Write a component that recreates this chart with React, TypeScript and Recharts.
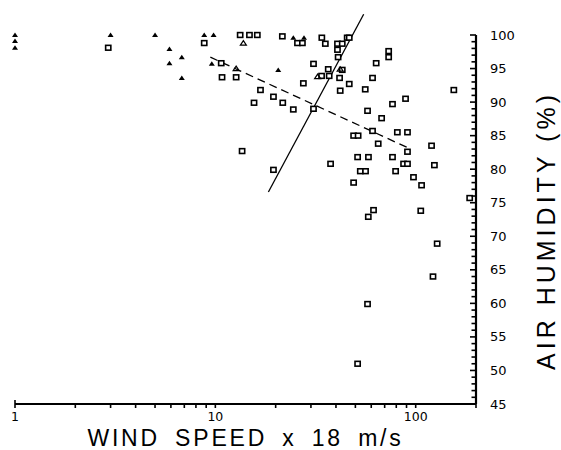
import { ScatterChart, Scatter, XAxis, YAxis, ReferenceLine } from 'recharts';

// wind speed (x 18 m/s), air humidity (%)
const squarePoints: [number, number][] = [
  [2.92, 98.1], [8.8, 98.8], [10.7, 95.8], [10.8, 93.7], [12.7, 93.7],
  [13.3, 100], [14.8, 100], [16.2, 100], [16.8, 91.8], [15.6, 89.9],
  [19.5, 90.8], [21.7, 89.9], [24.5, 88.9], [13.6, 82.7], [19.5, 79.9],
  [21.6, 99.8], [25.7, 98.8], [27.2, 98.8], [34, 99.6], [35.4, 98.7],
  [40.7, 98.7], [43, 98.7], [45.5, 99.6], [46.6, 99.6], [40.7, 97.8],
  [41, 96.7], [30.9, 95.7], [36.6, 94.9], [43, 94.8], [33.9, 93.9],
  [37, 93.9], [41.7, 93.6], [27.5, 92.8], [46.6, 92.7], [42, 91.7],
  [56, 91.9], [60.9, 93.6], [63.5, 95.8], [73.3, 97.6], [73.3, 96.7],
  [30.9, 89], [57.5, 88.7], [60.9, 85.7], [49, 85], [51.6, 85],
  [65, 83.8], [51.3, 81.8], [58.1, 81.8], [37.6, 80.8], [52.9, 79.7],
  [56.2, 79.7], [49, 78], [76.6, 89.7], [89, 90.5], [67.6, 87.6],
  [81, 85.5], [91, 85.5], [120, 83.5], [91, 82.6], [76.6, 81.8],
  [79.4, 79.7], [87, 80.8], [91, 80.8], [124, 80.6], [97.5, 78.8],
  [107, 77.6], [186, 75.7], [61.6, 73.9], [58, 72.9], [106, 73.8],
  [128, 68.9], [122, 64], [57.5, 59.9], [51.3, 51], [155, 91.8],
];

const filledTrianglePoints: [number, number][] = [
  [1, 100], [1, 99.1], [1, 98.1], [3, 100], [5, 100],
  [5.9, 97.9], [6.8, 96.7], [5.9, 95.8], [6.8, 93.6], [8.8, 100],
  [9.8, 100], [9.6, 95.7], [20.6, 94.8], [24.5, 99.6], [27.7, 99.6],
];

const openTrianglePoints: [number, number][] = [
  [13.8, 98.8], [12.7, 95], [32.4, 93.8], [42, 94.9],
];

// fitted lines (end points)
const solidFitX = [18.4, 55];
const solidFitY = [76.6, 103.1];
const dashedFitX = [9.44, 94.4];
const dashedFitY = [96.7, 83.0];

const xTicks = [1, 2, 3, 4, 5, 6, 7, 8, 9, 10, 20, 30, 40, 50, 60, 70, 80, 90, 100, 200];
const xLabels = [1, 10, 100];
const yTicks = [
  45, 46, 47, 48, 49, 50, 51, 52, 53, 54, 55, 56, 57, 58, 59, 60, 61, 62, 63, 64,
  65, 66, 67, 68, 69, 70, 71, 72, 73, 74, 75, 76, 77, 78, 79, 80, 81, 82, 83, 84,
  85, 86, 87, 88, 89, 90, 91, 92, 93, 94, 95, 96, 97, 98, 99, 100,
];
const yLabels = [45, 50, 55, 60, 65, 70, 75, 80, 85, 90, 95, 100];

const toData = (pts: [number, number][]) => pts.map(([x, y]) => ({ x, y }));

const font = '"DejaVu Sans", sans-serif';
const ink = '#000';

const XTick = (props: any) => {
  const { x, y, payload } = props;
  const v = payload.value;
  return (
    <g>
      <line x1={x} y1={y} x2={x} y2={y + 4} stroke={ink} strokeWidth={1.6} />
      {v === 1 && <line x1={x} y1={y} x2={x} y2={y - 4} stroke={ink} strokeWidth={1.6} />}
      {xLabels.includes(v) && (
        <text x={x} y={y + 17} textAnchor="middle" fontSize={12.5} fontFamily={font} fill="#000">
          {v}
        </text>
      )}
    </g>
  );
};

const YTick = (props: any) => {
  const { x, y, payload } = props;
  const v = payload.value;
  const major = yLabels.includes(v);
  return (
    <g>
      <line x1={x - (major ? 6 : 4.5)} y1={y} x2={x} y2={y} stroke={ink} strokeWidth={1.6} />
      {major && (
        <text x={x + 14} y={y + 4.5} textAnchor="start" fontSize={13} fontFamily={font} fill="#000">
          {v}
        </text>
      )}
    </g>
  );
};

const Square = (props: any) => {
  const { cx, cy } = props;
  return (
    <rect x={cx - 2.6} y={cy - 2.4} width={5.2} height={4.8} fill="#fff" stroke="#000" strokeWidth={1.6} />
  );
};

const FilledTriangle = (props: any) => {
  const { cx, cy } = props;
  return <path d={`M${cx - 3},${cy + 2} L${cx + 3},${cy + 2} L${cx},${cy - 2.5} Z`} fill="#000" />;
};

const OpenTriangle = (props: any) => {
  const { cx, cy } = props;
  return (
    <path d={`M${cx - 3},${cy + 2} L${cx + 3},${cy + 2} L${cx},${cy - 2.5} Z`} fill="none" stroke="#000" strokeWidth={1.2} />
  );
};

export default function App() {
  return (
    <div style={{ position: 'absolute', left: 0, top: 0, width: 561, height: 450, background: '#fff' }}>
      <ScatterChart width={561} height={450} margin={{ top: 35, left: 15, right: 0, bottom: 0 }}>
        <XAxis
          dataKey="x"
          type="number"
          scale="log"
          domain={[1, 200]}
          ticks={xTicks}
          interval={0}
          tickSize={0}
          tickMargin={0}
          tick={<XTick />}
          tickLine={false}
          axisLine={{ stroke: ink, strokeWidth: 2.2 }}
          height={46}
          label={{
            value: 'WIND SPEED x 18 m/s',
            position: 'insideBottom',
            offset: 4,
            fontSize: 23,
            fontFamily: '"Liberation Sans", sans-serif',
            letterSpacing: 2.8,
            wordSpacing: 6,
            fill: '#000',
          }}
        />
        <YAxis
          dataKey="y"
          type="number"
          orientation="right"
          domain={[45, 100]}
          ticks={yTicks}
          interval={0}
          tickSize={0}
          tickMargin={0}
          tick={<YTick />}
          tickLine={false}
          axisLine={{ stroke: ink, strokeWidth: 2.2 }}
          width={85}
          label={() => (
            <text
              x={0}
              y={0}
              transform="translate(555, 370) rotate(-90)"
              fontSize={25}
              fontFamily='"Liberation Sans", sans-serif'
              textLength={275}
              lengthAdjust="spacing"
              fill="#000"
            >
              AIR HUMIDITY (%)
            </text>
          )}
        />
        <ReferenceLine
          segment={[
            { x: solidFitX[0], y: solidFitY[0] },
            { x: solidFitX[1], y: solidFitY[1] },
          ]}
          stroke="#000"
          strokeWidth={1.3}
          ifOverflow="visible"
        />
        <ReferenceLine
          segment={[
            { x: dashedFitX[0], y: dashedFitY[0] },
            { x: dashedFitX[1], y: dashedFitY[1] },
          ]}
          stroke="#000"
          strokeWidth={1.3}
          strokeDasharray="8 5"
          ifOverflow="visible"
        />
        <Scatter data={toData(squarePoints)} shape={<Square />} isAnimationActive={false} />
        <Scatter data={toData(filledTrianglePoints)} shape={<FilledTriangle />} isAnimationActive={false} />
        <Scatter data={toData(openTrianglePoints)} shape={<OpenTriangle />} isAnimationActive={false} />
      </ScatterChart>
    </div>
  );
}
